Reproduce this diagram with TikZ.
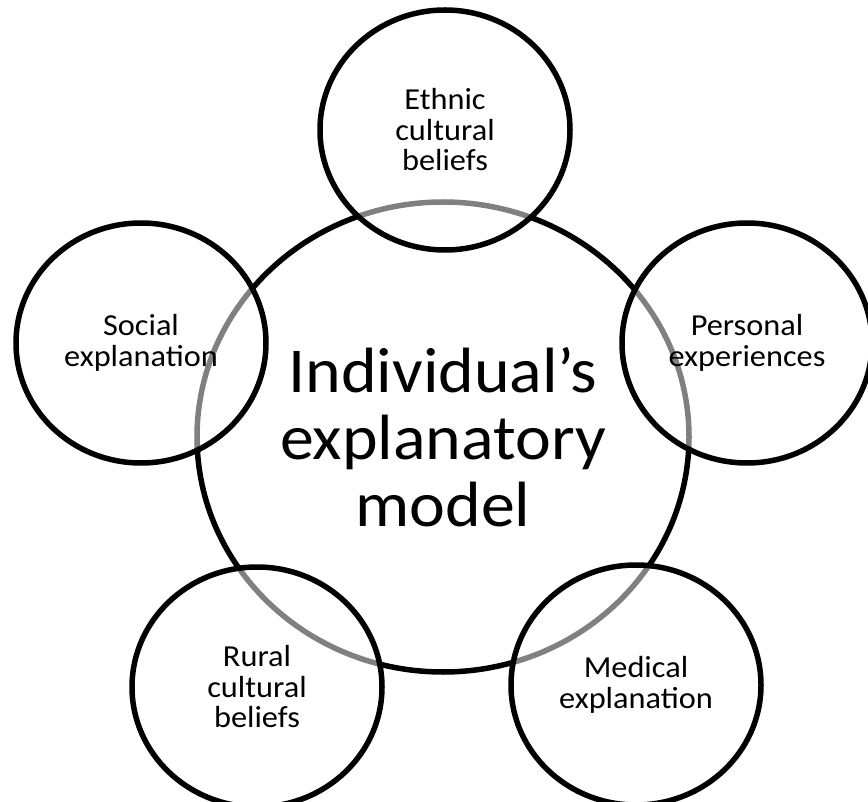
\documentclass[tikz,border=0pt]{standalone}
\usepackage{fontspec}
\setmainfont{Carlito}[FakeStretch=1.06]
\usetikzlibrary{shapes.geometric}
\begin{document}
\begin{tikzpicture}[x=1pt, y=-1pt]
\tikzstyle{core}=[ellipse, draw, line width=5.5pt, minimum width=492pt, minimum height=470pt, inner sep=0pt, align=center, font=\fontsize{64}{67}\selectfont]
\tikzstyle{bubble}=[ellipse, draw, line width=5.5pt, fill=white, fill opacity=0.5, text opacity=1, minimum width=250pt, minimum height=240pt, inner sep=0pt, align=center, font=\fontsize{30.5}{30.5}\selectfont]
\useasboundingbox (0,0) rectangle (868,802);
\node (M) [core]   at (443,437) {Individual's\\explanatory\\model};
\node (A) [bubble] at (445,130) {Ethnic\\cultural\\beliefs};
\node (B) [bubble] at (141,343) {Social\\explanation};
\node (C) [bubble] at (747,343) {Personal\\experiences};
\node (D) [bubble] at (257,687) {Rural\\cultural\\beliefs};
\node (E) [bubble] at (636,685) {Medical\\explanation};
\end{tikzpicture}
\end{document}
